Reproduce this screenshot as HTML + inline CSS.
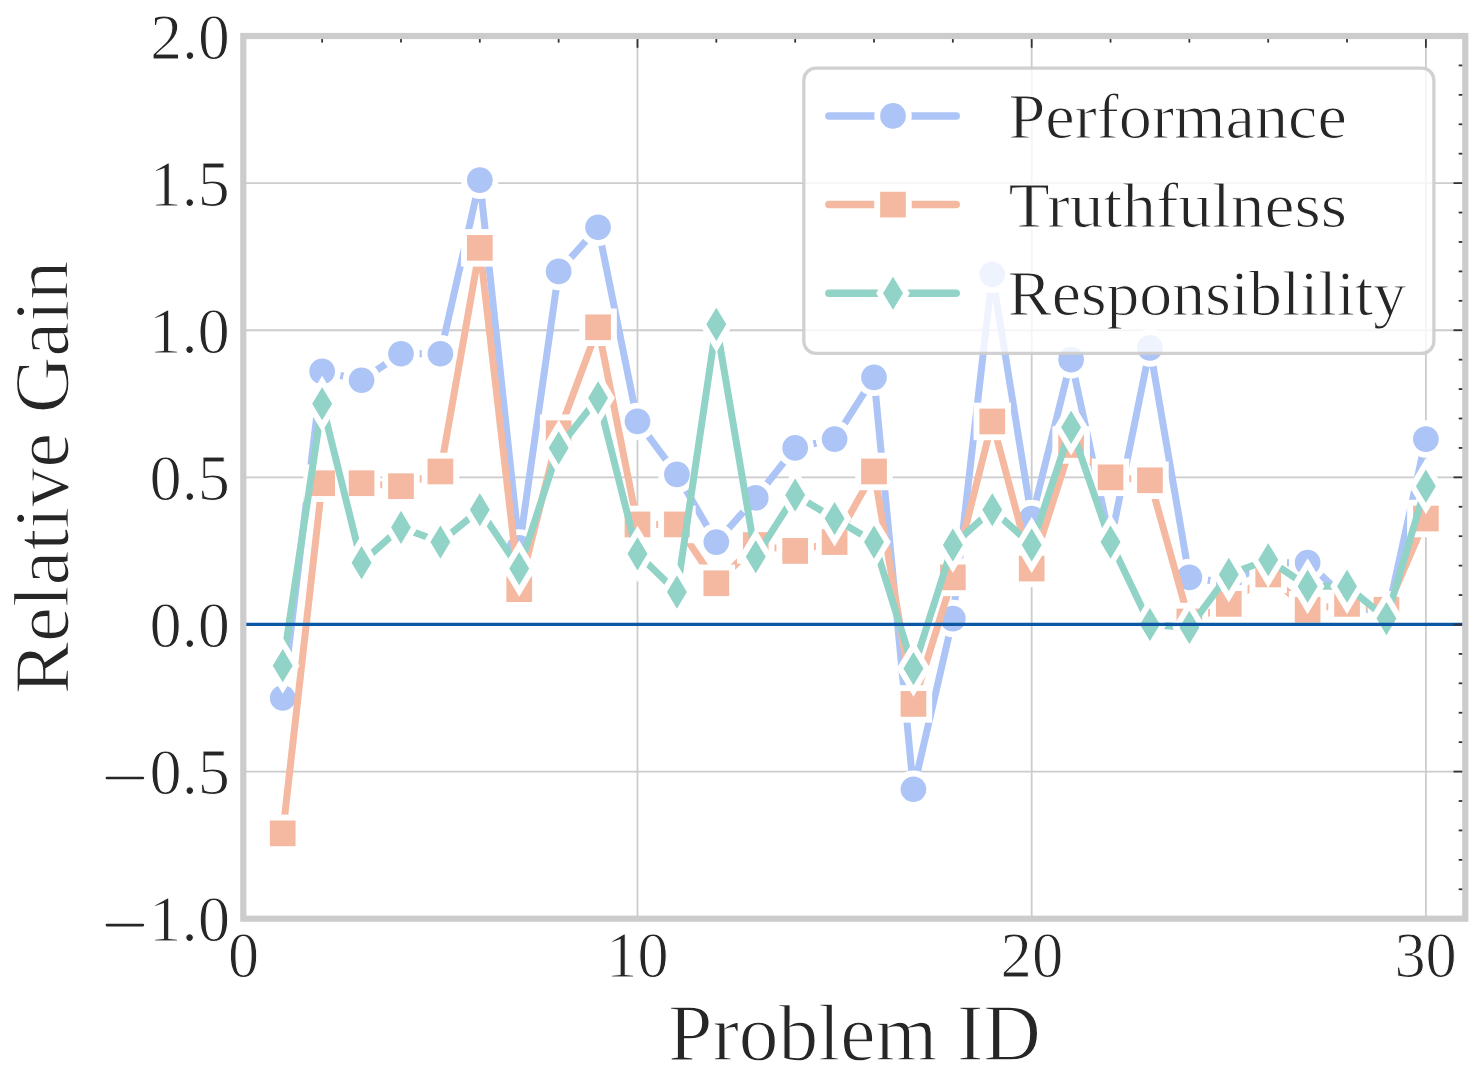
<!DOCTYPE html><html><head><meta charset="utf-8"><style>html,body{margin:0;padding:0;background:#fff;width:1480px;height:1090px;overflow:hidden}svg{display:block}text{font-family:"Liberation Serif",serif;fill:#262626;stroke:#fff;stroke-width:1.6px;paint-order:normal}</style></head><body>
<svg width="1480" height="1090" viewBox="0 0 1480 1090">
<rect width="1480" height="1090" fill="#fff"/>
<line x1="637.49" y1="36.0" x2="637.49" y2="918.7" stroke="#cccccc" stroke-width="1.8"/>
<line x1="1031.69" y1="36.0" x2="1031.69" y2="918.7" stroke="#cccccc" stroke-width="1.8"/>
<line x1="1425.88" y1="36.0" x2="1425.88" y2="918.7" stroke="#cccccc" stroke-width="1.8"/>
<line x1="243.3" y1="771.58" x2="1465.3" y2="771.58" stroke="#cccccc" stroke-width="1.8"/>
<line x1="243.3" y1="624.47" x2="1465.3" y2="624.47" stroke="#cccccc" stroke-width="1.8"/>
<line x1="243.3" y1="477.35" x2="1465.3" y2="477.35" stroke="#cccccc" stroke-width="1.8"/>
<line x1="243.3" y1="330.23" x2="1465.3" y2="330.23" stroke="#cccccc" stroke-width="1.8"/>
<line x1="243.3" y1="183.12" x2="1465.3" y2="183.12" stroke="#cccccc" stroke-width="1.8"/>
<polyline points="282.72,698.02 322.14,371.43 361.56,380.25 400.98,353.77 440.40,353.77 479.82,180.17 519.24,547.97 558.65,271.39 598.07,227.25 637.49,421.45 676.91,474.41 716.33,542.08 755.75,497.95 795.17,447.93 834.59,439.10 874.01,377.31 913.43,789.24 952.85,618.58 992.27,274.33 1031.69,518.54 1071.11,359.66 1110.53,542.08 1149.95,347.89 1189.36,577.39 1228.78,583.27 1268.20,562.68 1307.62,562.68 1347.04,599.46 1386.46,618.58 1425.88,439.10" fill="none" stroke="#adc4f6" stroke-width="7.0" stroke-linejoin="round" stroke-linecap="round"/>
<circle cx="282.72" cy="698.02" r="15.80" fill="#adc4f6" stroke="#fff" stroke-width="5.9"/>
<circle cx="322.14" cy="371.43" r="15.80" fill="#adc4f6" stroke="#fff" stroke-width="5.9"/>
<circle cx="361.56" cy="380.25" r="15.80" fill="#adc4f6" stroke="#fff" stroke-width="5.9"/>
<circle cx="400.98" cy="353.77" r="15.80" fill="#adc4f6" stroke="#fff" stroke-width="5.9"/>
<circle cx="440.40" cy="353.77" r="15.80" fill="#adc4f6" stroke="#fff" stroke-width="5.9"/>
<circle cx="479.82" cy="180.17" r="15.80" fill="#adc4f6" stroke="#fff" stroke-width="5.9"/>
<circle cx="519.24" cy="547.97" r="15.80" fill="#adc4f6" stroke="#fff" stroke-width="5.9"/>
<circle cx="558.65" cy="271.39" r="15.80" fill="#adc4f6" stroke="#fff" stroke-width="5.9"/>
<circle cx="598.07" cy="227.25" r="15.80" fill="#adc4f6" stroke="#fff" stroke-width="5.9"/>
<circle cx="637.49" cy="421.45" r="15.80" fill="#adc4f6" stroke="#fff" stroke-width="5.9"/>
<circle cx="676.91" cy="474.41" r="15.80" fill="#adc4f6" stroke="#fff" stroke-width="5.9"/>
<circle cx="716.33" cy="542.08" r="15.80" fill="#adc4f6" stroke="#fff" stroke-width="5.9"/>
<circle cx="755.75" cy="497.95" r="15.80" fill="#adc4f6" stroke="#fff" stroke-width="5.9"/>
<circle cx="795.17" cy="447.93" r="15.80" fill="#adc4f6" stroke="#fff" stroke-width="5.9"/>
<circle cx="834.59" cy="439.10" r="15.80" fill="#adc4f6" stroke="#fff" stroke-width="5.9"/>
<circle cx="874.01" cy="377.31" r="15.80" fill="#adc4f6" stroke="#fff" stroke-width="5.9"/>
<circle cx="913.43" cy="789.24" r="15.80" fill="#adc4f6" stroke="#fff" stroke-width="5.9"/>
<circle cx="952.85" cy="618.58" r="15.80" fill="#adc4f6" stroke="#fff" stroke-width="5.9"/>
<circle cx="992.27" cy="274.33" r="15.80" fill="#adc4f6" stroke="#fff" stroke-width="5.9"/>
<circle cx="1031.69" cy="518.54" r="15.80" fill="#adc4f6" stroke="#fff" stroke-width="5.9"/>
<circle cx="1071.11" cy="359.66" r="15.80" fill="#adc4f6" stroke="#fff" stroke-width="5.9"/>
<circle cx="1110.53" cy="542.08" r="15.80" fill="#adc4f6" stroke="#fff" stroke-width="5.9"/>
<circle cx="1149.95" cy="347.89" r="15.80" fill="#adc4f6" stroke="#fff" stroke-width="5.9"/>
<circle cx="1189.36" cy="577.39" r="15.80" fill="#adc4f6" stroke="#fff" stroke-width="5.9"/>
<circle cx="1228.78" cy="583.27" r="15.80" fill="#adc4f6" stroke="#fff" stroke-width="5.9"/>
<circle cx="1268.20" cy="562.68" r="15.80" fill="#adc4f6" stroke="#fff" stroke-width="5.9"/>
<circle cx="1307.62" cy="562.68" r="15.80" fill="#adc4f6" stroke="#fff" stroke-width="5.9"/>
<circle cx="1347.04" cy="599.46" r="15.80" fill="#adc4f6" stroke="#fff" stroke-width="5.9"/>
<circle cx="1386.46" cy="618.58" r="15.80" fill="#adc4f6" stroke="#fff" stroke-width="5.9"/>
<circle cx="1425.88" cy="439.10" r="15.80" fill="#adc4f6" stroke="#fff" stroke-width="5.9"/>
<polyline points="282.72,833.37 322.14,483.23 361.56,483.23 400.98,486.18 440.40,471.47 479.82,247.85 519.24,589.16 558.65,433.22 598.07,327.29 637.49,524.43 676.91,524.43 716.33,583.27 755.75,545.02 795.17,550.91 834.59,542.08 874.01,471.47 913.43,703.91 952.85,577.39 992.27,421.45 1031.69,568.56 1071.11,444.98 1110.53,477.35 1149.95,480.29 1189.36,621.52 1228.78,603.87 1268.20,574.45 1307.62,609.75 1347.04,603.87 1386.46,609.75 1425.88,518.54" fill="none" stroke="#f4b9a0" stroke-width="7.0" stroke-linejoin="round" stroke-linecap="round"/>
<rect x="266.92" y="817.57" width="31.60" height="31.60" fill="#f4b9a0" stroke="#fff" stroke-width="5.9" stroke-linejoin="miter"/>
<rect x="306.34" y="467.43" width="31.60" height="31.60" fill="#f4b9a0" stroke="#fff" stroke-width="5.9" stroke-linejoin="miter"/>
<rect x="345.76" y="467.43" width="31.60" height="31.60" fill="#f4b9a0" stroke="#fff" stroke-width="5.9" stroke-linejoin="miter"/>
<rect x="385.18" y="470.38" width="31.60" height="31.60" fill="#f4b9a0" stroke="#fff" stroke-width="5.9" stroke-linejoin="miter"/>
<rect x="424.60" y="455.67" width="31.60" height="31.60" fill="#f4b9a0" stroke="#fff" stroke-width="5.9" stroke-linejoin="miter"/>
<rect x="464.02" y="232.05" width="31.60" height="31.60" fill="#f4b9a0" stroke="#fff" stroke-width="5.9" stroke-linejoin="miter"/>
<rect x="503.44" y="573.36" width="31.60" height="31.60" fill="#f4b9a0" stroke="#fff" stroke-width="5.9" stroke-linejoin="miter"/>
<rect x="542.85" y="417.42" width="31.60" height="31.60" fill="#f4b9a0" stroke="#fff" stroke-width="5.9" stroke-linejoin="miter"/>
<rect x="582.27" y="311.49" width="31.60" height="31.60" fill="#f4b9a0" stroke="#fff" stroke-width="5.9" stroke-linejoin="miter"/>
<rect x="621.69" y="508.63" width="31.60" height="31.60" fill="#f4b9a0" stroke="#fff" stroke-width="5.9" stroke-linejoin="miter"/>
<rect x="661.11" y="508.63" width="31.60" height="31.60" fill="#f4b9a0" stroke="#fff" stroke-width="5.9" stroke-linejoin="miter"/>
<rect x="700.53" y="567.47" width="31.60" height="31.60" fill="#f4b9a0" stroke="#fff" stroke-width="5.9" stroke-linejoin="miter"/>
<rect x="739.95" y="529.22" width="31.60" height="31.60" fill="#f4b9a0" stroke="#fff" stroke-width="5.9" stroke-linejoin="miter"/>
<rect x="779.37" y="535.11" width="31.60" height="31.60" fill="#f4b9a0" stroke="#fff" stroke-width="5.9" stroke-linejoin="miter"/>
<rect x="818.79" y="526.28" width="31.60" height="31.60" fill="#f4b9a0" stroke="#fff" stroke-width="5.9" stroke-linejoin="miter"/>
<rect x="858.21" y="455.67" width="31.60" height="31.60" fill="#f4b9a0" stroke="#fff" stroke-width="5.9" stroke-linejoin="miter"/>
<rect x="897.63" y="688.11" width="31.60" height="31.60" fill="#f4b9a0" stroke="#fff" stroke-width="5.9" stroke-linejoin="miter"/>
<rect x="937.05" y="561.59" width="31.60" height="31.60" fill="#f4b9a0" stroke="#fff" stroke-width="5.9" stroke-linejoin="miter"/>
<rect x="976.47" y="405.65" width="31.60" height="31.60" fill="#f4b9a0" stroke="#fff" stroke-width="5.9" stroke-linejoin="miter"/>
<rect x="1015.89" y="552.76" width="31.60" height="31.60" fill="#f4b9a0" stroke="#fff" stroke-width="5.9" stroke-linejoin="miter"/>
<rect x="1055.31" y="429.18" width="31.60" height="31.60" fill="#f4b9a0" stroke="#fff" stroke-width="5.9" stroke-linejoin="miter"/>
<rect x="1094.73" y="461.55" width="31.60" height="31.60" fill="#f4b9a0" stroke="#fff" stroke-width="5.9" stroke-linejoin="miter"/>
<rect x="1134.15" y="464.49" width="31.60" height="31.60" fill="#f4b9a0" stroke="#fff" stroke-width="5.9" stroke-linejoin="miter"/>
<rect x="1173.56" y="605.72" width="31.60" height="31.60" fill="#f4b9a0" stroke="#fff" stroke-width="5.9" stroke-linejoin="miter"/>
<rect x="1212.98" y="588.07" width="31.60" height="31.60" fill="#f4b9a0" stroke="#fff" stroke-width="5.9" stroke-linejoin="miter"/>
<rect x="1252.40" y="558.65" width="31.60" height="31.60" fill="#f4b9a0" stroke="#fff" stroke-width="5.9" stroke-linejoin="miter"/>
<rect x="1291.82" y="593.96" width="31.60" height="31.60" fill="#f4b9a0" stroke="#fff" stroke-width="5.9" stroke-linejoin="miter"/>
<rect x="1331.24" y="588.07" width="31.60" height="31.60" fill="#f4b9a0" stroke="#fff" stroke-width="5.9" stroke-linejoin="miter"/>
<rect x="1370.66" y="593.96" width="31.60" height="31.60" fill="#f4b9a0" stroke="#fff" stroke-width="5.9" stroke-linejoin="miter"/>
<rect x="1410.08" y="502.74" width="31.60" height="31.60" fill="#f4b9a0" stroke="#fff" stroke-width="5.9" stroke-linejoin="miter"/>
<polyline points="282.72,665.66 322.14,403.79 361.56,562.68 400.98,527.37 440.40,542.08 479.82,509.72 519.24,568.56 558.65,447.93 598.07,397.91 637.49,553.85 676.91,592.10 716.33,324.35 755.75,556.79 795.17,495.00 834.59,518.54 874.01,542.08 913.43,668.60 952.85,545.02 992.27,509.72 1031.69,545.02 1071.11,427.33 1110.53,542.08 1149.95,624.47 1189.36,627.41 1228.78,574.45 1268.20,559.74 1307.62,586.22 1347.04,586.22 1386.46,618.58 1425.88,486.18" fill="none" stroke="#91d3c6" stroke-width="7.0" stroke-linejoin="round" stroke-linecap="round"/>
<polygon points="282.72,643.31 296.13,665.66 282.72,688.00 269.31,665.66" fill="#91d3c6" stroke="#fff" stroke-width="5.9" stroke-linejoin="miter" stroke-miterlimit="10"/>
<polygon points="322.14,381.45 335.55,403.79 322.14,426.14 308.73,403.79" fill="#91d3c6" stroke="#fff" stroke-width="5.9" stroke-linejoin="miter" stroke-miterlimit="10"/>
<polygon points="361.56,540.33 374.96,562.68 361.56,585.02 348.15,562.68" fill="#91d3c6" stroke="#fff" stroke-width="5.9" stroke-linejoin="miter" stroke-miterlimit="10"/>
<polygon points="400.98,505.03 414.38,527.37 400.98,549.71 387.57,527.37" fill="#91d3c6" stroke="#fff" stroke-width="5.9" stroke-linejoin="miter" stroke-miterlimit="10"/>
<polygon points="440.40,519.74 453.80,542.08 440.40,564.43 426.99,542.08" fill="#91d3c6" stroke="#fff" stroke-width="5.9" stroke-linejoin="miter" stroke-miterlimit="10"/>
<polygon points="479.82,487.37 493.22,509.72 479.82,532.06 466.41,509.72" fill="#91d3c6" stroke="#fff" stroke-width="5.9" stroke-linejoin="miter" stroke-miterlimit="10"/>
<polygon points="519.24,546.22 532.64,568.56 519.24,590.91 505.83,568.56" fill="#91d3c6" stroke="#fff" stroke-width="5.9" stroke-linejoin="miter" stroke-miterlimit="10"/>
<polygon points="558.65,425.58 572.06,447.93 558.65,470.27 545.25,447.93" fill="#91d3c6" stroke="#fff" stroke-width="5.9" stroke-linejoin="miter" stroke-miterlimit="10"/>
<polygon points="598.07,375.56 611.48,397.91 598.07,420.25 584.67,397.91" fill="#91d3c6" stroke="#fff" stroke-width="5.9" stroke-linejoin="miter" stroke-miterlimit="10"/>
<polygon points="637.49,531.51 650.90,553.85 637.49,576.20 624.09,553.85" fill="#91d3c6" stroke="#fff" stroke-width="5.9" stroke-linejoin="miter" stroke-miterlimit="10"/>
<polygon points="676.91,569.76 690.32,592.10 676.91,614.45 663.51,592.10" fill="#91d3c6" stroke="#fff" stroke-width="5.9" stroke-linejoin="miter" stroke-miterlimit="10"/>
<polygon points="716.33,302.00 729.74,324.35 716.33,346.69 702.93,324.35" fill="#91d3c6" stroke="#fff" stroke-width="5.9" stroke-linejoin="miter" stroke-miterlimit="10"/>
<polygon points="755.75,534.45 769.16,556.79 755.75,579.14 742.34,556.79" fill="#91d3c6" stroke="#fff" stroke-width="5.9" stroke-linejoin="miter" stroke-miterlimit="10"/>
<polygon points="795.17,472.66 808.58,495.00 795.17,517.35 781.76,495.00" fill="#91d3c6" stroke="#fff" stroke-width="5.9" stroke-linejoin="miter" stroke-miterlimit="10"/>
<polygon points="834.59,496.20 848.00,518.54 834.59,540.89 821.18,518.54" fill="#91d3c6" stroke="#fff" stroke-width="5.9" stroke-linejoin="miter" stroke-miterlimit="10"/>
<polygon points="874.01,519.74 887.42,542.08 874.01,564.43 860.60,542.08" fill="#91d3c6" stroke="#fff" stroke-width="5.9" stroke-linejoin="miter" stroke-miterlimit="10"/>
<polygon points="913.43,646.26 926.84,668.60 913.43,690.95 900.02,668.60" fill="#91d3c6" stroke="#fff" stroke-width="5.9" stroke-linejoin="miter" stroke-miterlimit="10"/>
<polygon points="952.85,522.68 966.26,545.02 952.85,567.37 939.44,545.02" fill="#91d3c6" stroke="#fff" stroke-width="5.9" stroke-linejoin="miter" stroke-miterlimit="10"/>
<polygon points="992.27,487.37 1005.67,509.72 992.27,532.06 978.86,509.72" fill="#91d3c6" stroke="#fff" stroke-width="5.9" stroke-linejoin="miter" stroke-miterlimit="10"/>
<polygon points="1031.69,522.68 1045.09,545.02 1031.69,567.37 1018.28,545.02" fill="#91d3c6" stroke="#fff" stroke-width="5.9" stroke-linejoin="miter" stroke-miterlimit="10"/>
<polygon points="1071.11,404.99 1084.51,427.33 1071.11,449.67 1057.70,427.33" fill="#91d3c6" stroke="#fff" stroke-width="5.9" stroke-linejoin="miter" stroke-miterlimit="10"/>
<polygon points="1110.53,519.74 1123.93,542.08 1110.53,564.43 1097.12,542.08" fill="#91d3c6" stroke="#fff" stroke-width="5.9" stroke-linejoin="miter" stroke-miterlimit="10"/>
<polygon points="1149.95,602.12 1163.35,624.47 1149.95,646.81 1136.54,624.47" fill="#91d3c6" stroke="#fff" stroke-width="5.9" stroke-linejoin="miter" stroke-miterlimit="10"/>
<polygon points="1189.36,605.06 1202.77,627.41 1189.36,649.75 1175.96,627.41" fill="#91d3c6" stroke="#fff" stroke-width="5.9" stroke-linejoin="miter" stroke-miterlimit="10"/>
<polygon points="1228.78,552.10 1242.19,574.45 1228.78,596.79 1215.38,574.45" fill="#91d3c6" stroke="#fff" stroke-width="5.9" stroke-linejoin="miter" stroke-miterlimit="10"/>
<polygon points="1268.20,537.39 1281.61,559.74 1268.20,582.08 1254.80,559.74" fill="#91d3c6" stroke="#fff" stroke-width="5.9" stroke-linejoin="miter" stroke-miterlimit="10"/>
<polygon points="1307.62,563.87 1321.03,586.22 1307.62,608.56 1294.22,586.22" fill="#91d3c6" stroke="#fff" stroke-width="5.9" stroke-linejoin="miter" stroke-miterlimit="10"/>
<polygon points="1347.04,563.87 1360.45,586.22 1347.04,608.56 1333.64,586.22" fill="#91d3c6" stroke="#fff" stroke-width="5.9" stroke-linejoin="miter" stroke-miterlimit="10"/>
<polygon points="1386.46,596.24 1399.87,618.58 1386.46,640.93 1373.05,618.58" fill="#91d3c6" stroke="#fff" stroke-width="5.9" stroke-linejoin="miter" stroke-miterlimit="10"/>
<polygon points="1425.88,463.83 1439.29,486.18 1425.88,508.52 1412.47,486.18" fill="#91d3c6" stroke="#fff" stroke-width="5.9" stroke-linejoin="miter" stroke-miterlimit="10"/>
<line x1="243.3" y1="624.47" x2="1465.3" y2="624.47" stroke="#0b57a4" stroke-width="3.2"/>
<line x1="322.14" y1="36.0" x2="322.14" y2="42.6" stroke="#333333" stroke-width="1.8"/>
<line x1="400.98" y1="36.0" x2="400.98" y2="42.6" stroke="#333333" stroke-width="1.8"/>
<line x1="479.82" y1="36.0" x2="479.82" y2="42.6" stroke="#333333" stroke-width="1.8"/>
<line x1="558.65" y1="36.0" x2="558.65" y2="42.6" stroke="#333333" stroke-width="1.8"/>
<line x1="637.49" y1="36.0" x2="637.49" y2="47.8" stroke="#333333" stroke-width="1.8"/>
<line x1="716.33" y1="36.0" x2="716.33" y2="42.6" stroke="#333333" stroke-width="1.8"/>
<line x1="795.17" y1="36.0" x2="795.17" y2="42.6" stroke="#333333" stroke-width="1.8"/>
<line x1="874.01" y1="36.0" x2="874.01" y2="42.6" stroke="#333333" stroke-width="1.8"/>
<line x1="952.85" y1="36.0" x2="952.85" y2="42.6" stroke="#333333" stroke-width="1.8"/>
<line x1="1031.69" y1="36.0" x2="1031.69" y2="47.8" stroke="#333333" stroke-width="1.8"/>
<line x1="1110.53" y1="36.0" x2="1110.53" y2="42.6" stroke="#333333" stroke-width="1.8"/>
<line x1="1189.36" y1="36.0" x2="1189.36" y2="42.6" stroke="#333333" stroke-width="1.8"/>
<line x1="1268.20" y1="36.0" x2="1268.20" y2="42.6" stroke="#333333" stroke-width="1.8"/>
<line x1="1347.04" y1="36.0" x2="1347.04" y2="42.6" stroke="#333333" stroke-width="1.8"/>
<line x1="1425.88" y1="36.0" x2="1425.88" y2="47.8" stroke="#333333" stroke-width="1.8"/>
<line x1="1465.3" y1="889.28" x2="1458.7" y2="889.28" stroke="#333333" stroke-width="1.8"/>
<line x1="1465.3" y1="859.85" x2="1458.7" y2="859.85" stroke="#333333" stroke-width="1.8"/>
<line x1="1465.3" y1="830.43" x2="1458.7" y2="830.43" stroke="#333333" stroke-width="1.8"/>
<line x1="1465.3" y1="801.01" x2="1458.7" y2="801.01" stroke="#333333" stroke-width="1.8"/>
<line x1="1465.3" y1="771.58" x2="1453.5" y2="771.58" stroke="#333333" stroke-width="1.8"/>
<line x1="1465.3" y1="742.16" x2="1458.7" y2="742.16" stroke="#333333" stroke-width="1.8"/>
<line x1="1465.3" y1="712.74" x2="1458.7" y2="712.74" stroke="#333333" stroke-width="1.8"/>
<line x1="1465.3" y1="683.31" x2="1458.7" y2="683.31" stroke="#333333" stroke-width="1.8"/>
<line x1="1465.3" y1="653.89" x2="1458.7" y2="653.89" stroke="#333333" stroke-width="1.8"/>
<line x1="1465.3" y1="624.47" x2="1453.5" y2="624.47" stroke="#333333" stroke-width="1.8"/>
<line x1="1465.3" y1="595.04" x2="1458.7" y2="595.04" stroke="#333333" stroke-width="1.8"/>
<line x1="1465.3" y1="565.62" x2="1458.7" y2="565.62" stroke="#333333" stroke-width="1.8"/>
<line x1="1465.3" y1="536.20" x2="1458.7" y2="536.20" stroke="#333333" stroke-width="1.8"/>
<line x1="1465.3" y1="506.77" x2="1458.7" y2="506.77" stroke="#333333" stroke-width="1.8"/>
<line x1="1465.3" y1="477.35" x2="1453.5" y2="477.35" stroke="#333333" stroke-width="1.8"/>
<line x1="1465.3" y1="447.93" x2="1458.7" y2="447.93" stroke="#333333" stroke-width="1.8"/>
<line x1="1465.3" y1="418.50" x2="1458.7" y2="418.50" stroke="#333333" stroke-width="1.8"/>
<line x1="1465.3" y1="389.08" x2="1458.7" y2="389.08" stroke="#333333" stroke-width="1.8"/>
<line x1="1465.3" y1="359.66" x2="1458.7" y2="359.66" stroke="#333333" stroke-width="1.8"/>
<line x1="1465.3" y1="330.23" x2="1453.5" y2="330.23" stroke="#333333" stroke-width="1.8"/>
<line x1="1465.3" y1="300.81" x2="1458.7" y2="300.81" stroke="#333333" stroke-width="1.8"/>
<line x1="1465.3" y1="271.39" x2="1458.7" y2="271.39" stroke="#333333" stroke-width="1.8"/>
<line x1="1465.3" y1="241.96" x2="1458.7" y2="241.96" stroke="#333333" stroke-width="1.8"/>
<line x1="1465.3" y1="212.54" x2="1458.7" y2="212.54" stroke="#333333" stroke-width="1.8"/>
<line x1="1465.3" y1="183.12" x2="1453.5" y2="183.12" stroke="#333333" stroke-width="1.8"/>
<line x1="1465.3" y1="153.69" x2="1458.7" y2="153.69" stroke="#333333" stroke-width="1.8"/>
<line x1="1465.3" y1="124.27" x2="1458.7" y2="124.27" stroke="#333333" stroke-width="1.8"/>
<line x1="1465.3" y1="94.85" x2="1458.7" y2="94.85" stroke="#333333" stroke-width="1.8"/>
<line x1="1465.3" y1="65.42" x2="1458.7" y2="65.42" stroke="#333333" stroke-width="1.8"/>
<rect x="243.3" y="36.0" width="1222.00" height="882.70" fill="none" stroke="#cccccc" stroke-width="6.2" stroke-linejoin="miter"/>
<rect x="803.8" y="68.2" width="630.1" height="285.1" rx="12" ry="12" fill="#fff" fill-opacity="0.8" stroke="#cccccc" stroke-opacity="0.9" stroke-width="3.3"/>
<line x1="828.9" y1="115.9" x2="956.2" y2="115.9" stroke="#adc4f6" stroke-width="7.5" stroke-linecap="round"/>
<circle cx="893.00" cy="115.90" r="15.80" fill="#adc4f6" stroke="#fff" stroke-width="5.9"/>
<line x1="828.9" y1="204.6" x2="956.2" y2="204.6" stroke="#f4b9a0" stroke-width="7.5" stroke-linecap="round"/>
<rect x="877.20" y="188.80" width="31.60" height="31.60" fill="#f4b9a0" stroke="#fff" stroke-width="5.9" stroke-linejoin="miter"/>
<line x1="828.9" y1="293.3" x2="956.2" y2="293.3" stroke="#91d3c6" stroke-width="7.5" stroke-linecap="round"/>
<polygon points="893.00,270.96 906.41,293.30 893.00,315.64 879.59,293.30" fill="#91d3c6" stroke="#fff" stroke-width="5.9" stroke-linejoin="miter" stroke-miterlimit="10"/>
<text transform="matrix(0.63590 0 0 0.64853 86.667 -136.056)" x="100" y="300" font-size="100">2.0</text>
<text transform="matrix(0.63929 0 0 0.65821 85.818 8.796)" x="100" y="300" font-size="100">1.5</text>
<text transform="matrix(0.64643 0 0 0.64853 84.439 158.177)" x="100" y="300" font-size="100">1.0</text>
<text transform="matrix(0.64359 0 0 0.64853 85.267 305.294)" x="100" y="300" font-size="100">0.5</text>
<text transform="matrix(0.64359 0 0 0.64853 85.267 452.411)" x="100" y="300" font-size="100">0.0</text>
<text transform="matrix(0.62143 0 0 0.65000 165.971 782.400)" x="100" y="300" font-size="100">0</text>
<text transform="matrix(0.62184 0 0 0.65000 544.120 782.400)" x="100" y="300" font-size="100">10</text>
<text transform="matrix(0.62609 0 0 0.65000 937.987 782.400)" x="100" y="300" font-size="100">20</text>
<text transform="matrix(0.62418 0 0 0.65000 1331.962 782.400)" x="100" y="300" font-size="100">30</text>
<text transform="matrix(0.79372 0 0 0.80000 588.947 819.700)" x="100" y="300" font-size="100">Problem ID</text>
<text transform="matrix(0.66250 0 0 0.63750 942.262 -52.787)" x="100" y="300" font-size="100">Performance</text>
<text transform="matrix(0.67460 0 0 0.63472 940.991 36.249)" x="100" y="300" font-size="100">Truthfulness</text>
<text transform="matrix(0.65781 0 0 0.62667 942.046 126.840)" x="100" y="300" font-size="100">Responsiblility</text>
<text transform="matrix(0.64359 0 0 0.64853 85.267 599.527)" x="100" y="300" font-size="100">0.5</text>
<text transform="matrix(0.64821 0 0 0.64853 84.245 746.644)" x="100" y="300" font-size="100">1.0</text>
<line x1="106.9" y1="777.98" x2="142.9" y2="777.98" stroke="#262626" stroke-width="2.6" stroke-linecap="round"/>
<line x1="106.9" y1="925.10" x2="142.9" y2="925.10" stroke="#262626" stroke-width="2.6" stroke-linecap="round"/>
<text transform="matrix(0 -0.78467 0.78310 0 -166.496 772.821)" x="100" y="300" font-size="100">Relative Gain</text>
</svg></body></html>
